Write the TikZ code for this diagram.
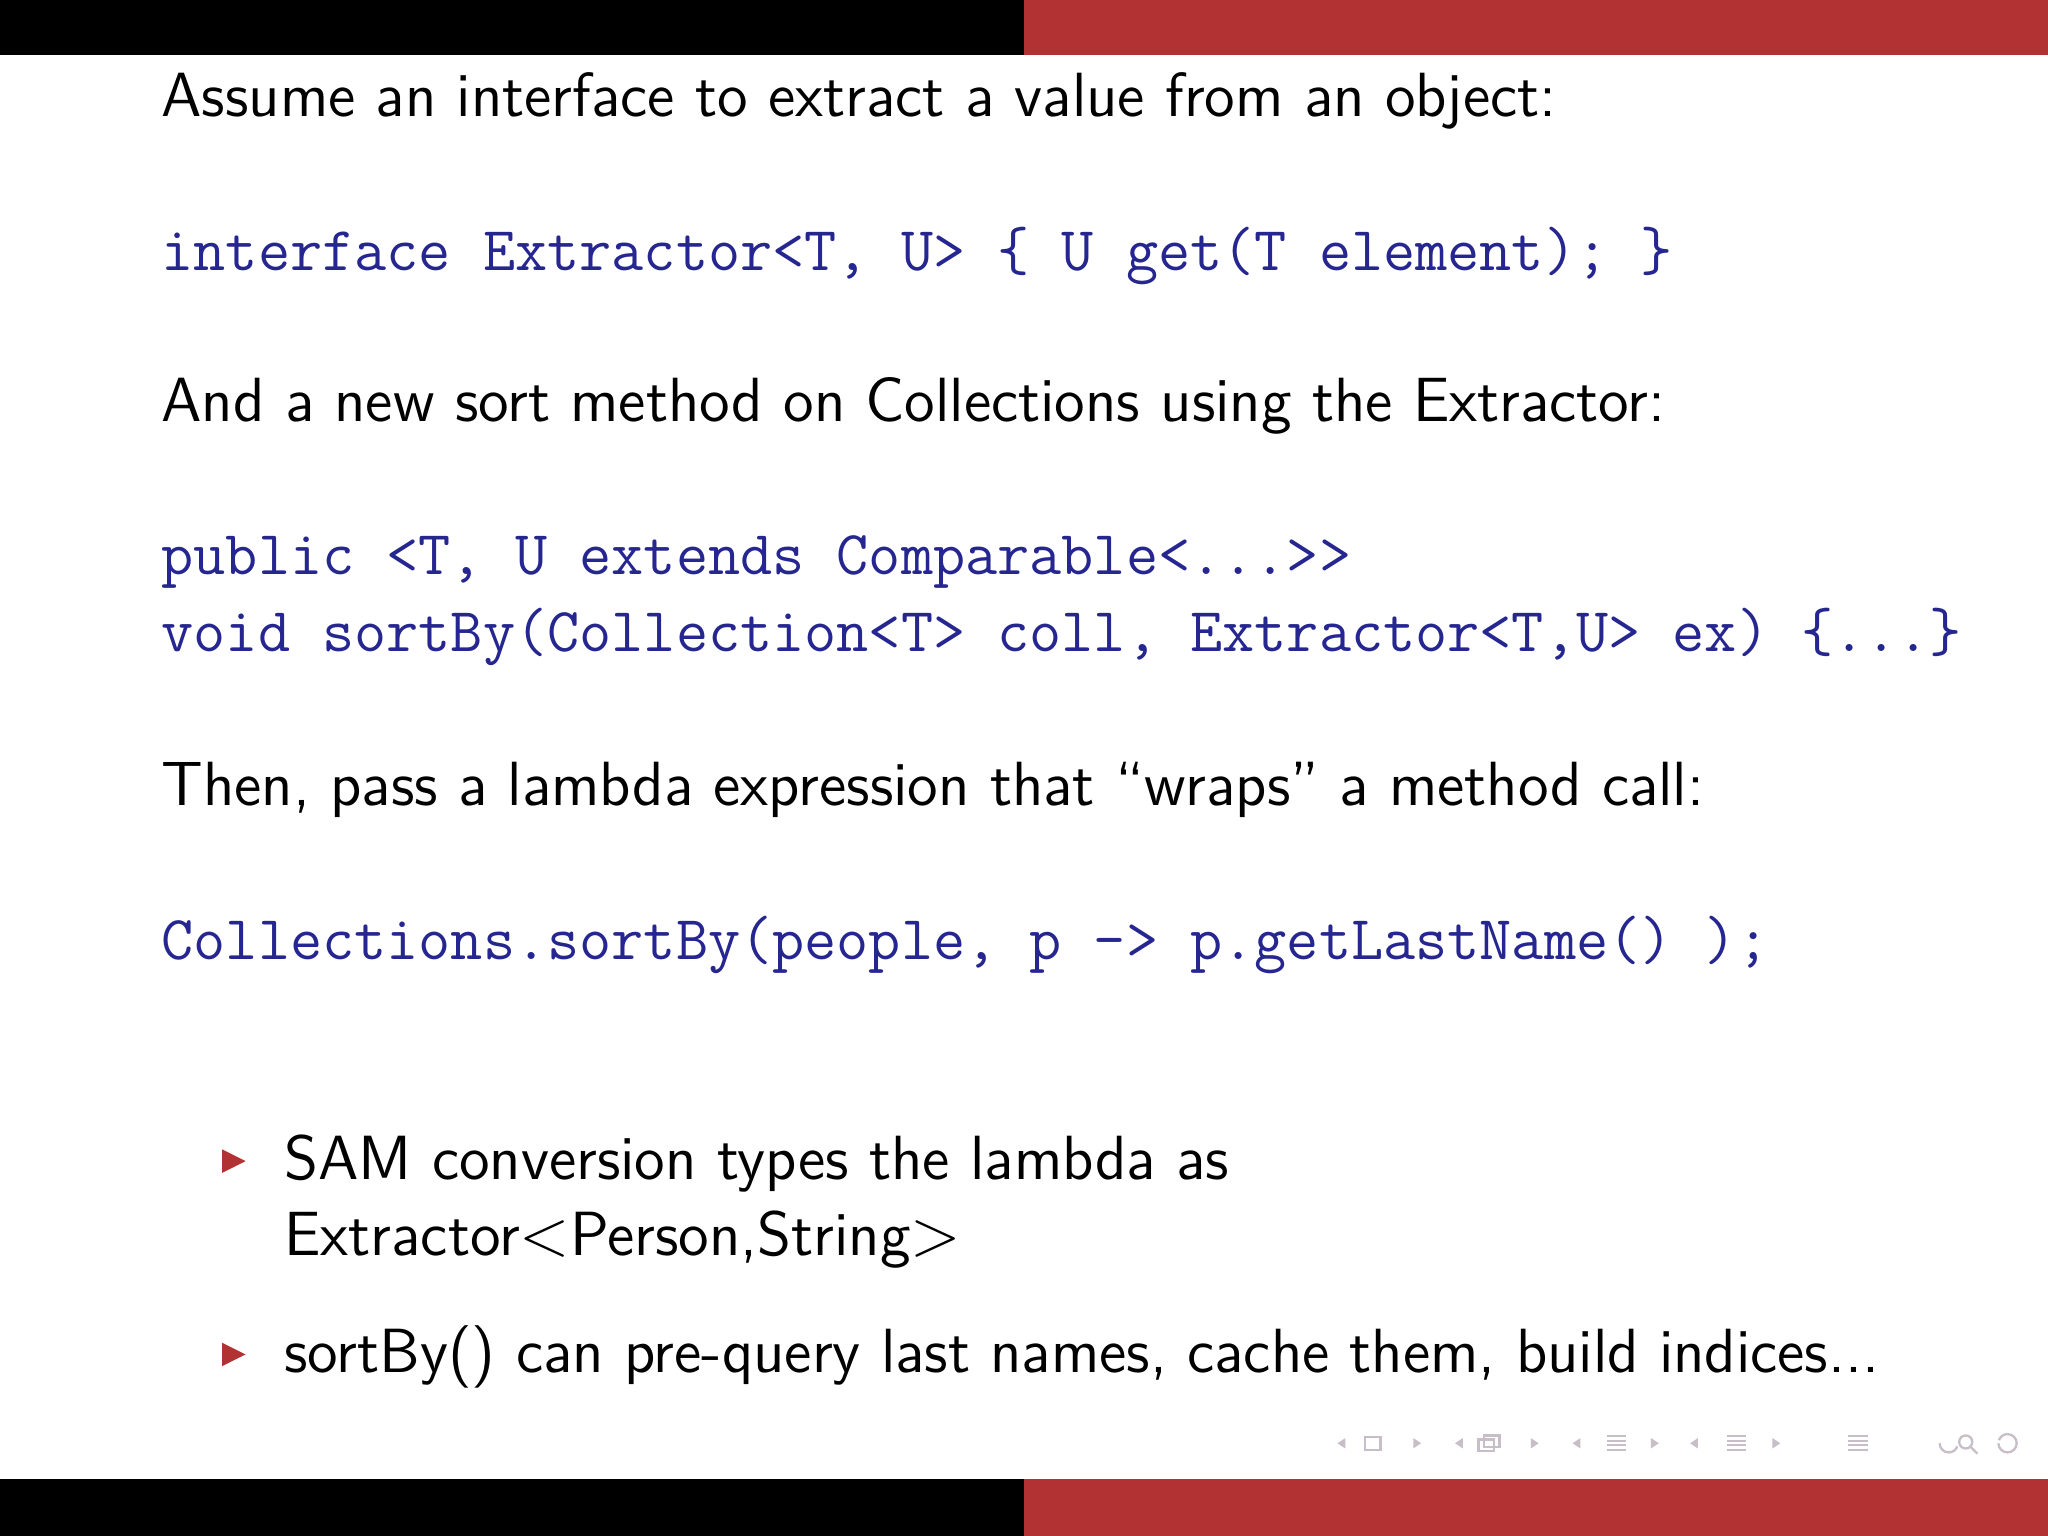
\documentclass[tikz,border=0pt]{standalone}
\renewcommand{\familydefault}{\sfdefault}
\definecolor{barred}{RGB}{178,50,52}
\definecolor{codeblue}{RGB}{38,38,145}
\definecolor{navgrey}{RGB}{200,190,200}
\begin{document}
\begin{tikzpicture}[x=1cm,y=-1cm,
  txt/.style={anchor=base west,inner sep=0pt,font=\fontsize{13.6}{16}\selectfont\sffamily},
  code/.style={anchor=base west,inner sep=0pt,text=codeblue,font=\fontsize{13.6}{16}\selectfont\ttfamily},
  bul/.style={fill=barred,draw=none}]
\useasboundingbox (0,0) rectangle (15.68,11.76);
\fill[black] (0,0) rectangle (7.84,0.42);
\fill[barred] (7.84,0) rectangle (15.68,0.42);
\fill[black] (0,11.32) rectangle (7.84,11.76);
\fill[barred] (7.84,11.32) rectangle (15.68,11.76);
\node[txt] (t1) at (1.23,0.89) {Assume an interface to extract a value from an object:};
\node[code] (c1) at (1.23,2.07) {interface Extractor<T, U> \{ U get(T element); \}};
\node[txt] (t2) at (1.23,3.23) {And a new sort method on Collections using the Extractor:};
\node[code] (c2) at (1.23,4.40) {public <T, U extends Comparable<...>{}>};
\node[code] (c3) at (1.23,4.99) {void sortBy(Collection<T> coll, Extractor<T,U> ex) \{...\}};
\node[txt] (t3) at (1.23,6.17) {Then, pass a lambda expression that ``wraps'' a method call:};
\node[code] (c4) at (1.23,7.35) {Collections.sortBy(people, p -> p.getLastName() );};
\fill[bul] (1.70,8.80) -- (1.88,8.89) -- (1.70,8.98) -- cycle;
\node[txt] (b1) at (2.17,9.03) {SAM conversion types the lambda as};
\node[txt] (b1b) at (2.17,9.61) {Extractor$<$Person,String$>$};
\fill[bul] (1.70,10.28) -- (1.88,10.37) -- (1.70,10.46) -- cycle;
\node[txt] (b2) at (2.17,10.51) {sortBy() can pre-query last names, cache them, build indices...};
\begin{scope}[navgrey,line width=0.5pt]
\foreach \x in {10.2,11.1,12.0,12.9} {\fill (\x+0.04,11.05) -- (\x+0.1,11.01) -- (\x+0.1,11.09) -- cycle;}
\foreach \x in {10.8,11.7,12.62,13.55} {\fill (\x+0.08,11.05) -- (\x+0.02,11.01) -- (\x+0.02,11.09) -- cycle;}
\draw (10.45,11.0) rectangle (10.57,11.1);
\draw (11.32,11.02) rectangle (11.44,11.11); \draw (11.36,10.99) rectangle (11.48,11.08);
\foreach \x in {12.3,13.22,14.15} {\foreach \d in {0,0.035,0.07,0.105} {\draw (\x,10.995+\d) -- (\x+0.15,10.995+\d);}}
\draw (14.85,11.05) arc (180:20:0.07); \draw (15.05,11.04) circle (0.05); \draw (15.09,11.08)--(15.14,11.13);
\draw (15.3,11.05) arc (180:-160:0.07);
\end{scope}
\end{tikzpicture}
\end{document}
